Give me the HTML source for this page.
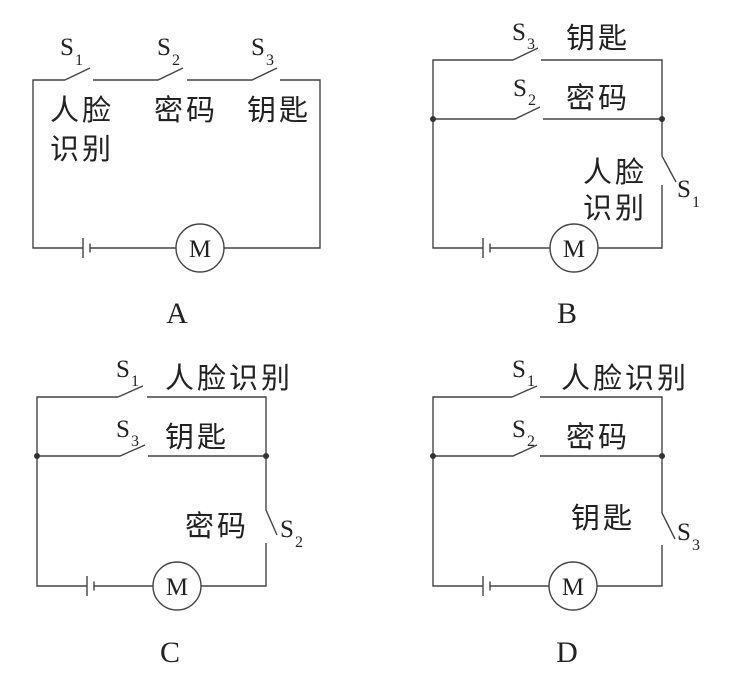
<!DOCTYPE html>
<html><head><meta charset="utf-8"><style>
html,body{margin:0;padding:0;background:#fff;}
svg{display:block;}
.w{stroke:#444;stroke-width:1.4;fill:none;}
.cj{font-family:"Liberation Sans","Noto Sans CJK SC",sans-serif;font-size:29px;fill:#222;letter-spacing:3px;}
.s{font-family:"Liberation Serif",serif;font-size:25px;fill:#222;}
.sub{font-family:"Liberation Serif",serif;font-size:16px;fill:#222;}
.m{font-family:"Liberation Serif",serif;font-size:25px;fill:#222;}
.L{font-family:"Liberation Serif",serif;font-size:30px;fill:#222;}
</style></head><body>
<svg width="744" height="683" viewBox="0 0 744 683">
<!-- A -->
<g class="w">
<path d="M65,80 H33 V248 H83 M90,248 H176 M224,248 H320 V80 H280"/>
<path d="M65,80 L90,68 M93,80 H158 L183,68 M187,80 H252 L277,68"/>
<path d="M83,238 V258 M90,243.5 V252.5"/>
<circle cx="200" cy="248" r="24"/>
</g>
<text class="m" x="200" y="257" text-anchor="middle">M</text>
<text class="s" x="60" y="55">S</text><text class="sub" x="75" y="65">1</text>
<text class="s" x="157" y="55">S</text><text class="sub" x="172" y="65">2</text>
<text class="s" x="251" y="55">S</text><text class="sub" x="266" y="65">3</text>
<text class="cj" x="50" y="120">人脸</text>
<text class="cj" x="50" y="159">识别</text>
<text class="cj" x="154" y="120">密码</text>
<text class="cj" x="247" y="120">钥匙</text>
<text class="L" x="177" y="323" text-anchor="middle">A</text>

<!-- B -->
<g class="w">
<path d="M513,60 H433 V248 H483 M490,248 H550 M598,248 H662 V185"/>
<path d="M513,60 L538,48 M541,60 H662 V156 L676,182"/>
<path d="M433,119 H515 L540,107 M543,119 H662"/>
<path d="M483,238 V258 M490,243.5 V252.5"/>
<circle cx="574" cy="248" r="24"/>
</g>
<circle cx="433" cy="119" r="3" fill="#333"/><circle cx="662" cy="119" r="3" fill="#333"/>
<text class="m" x="574" y="257" text-anchor="middle">M</text>
<text class="s" x="512" y="40">S</text><text class="sub" x="527" y="49">3</text>
<text class="s" x="513" y="96">S</text><text class="sub" x="528" y="105">2</text>
<text class="s" x="677" y="197">S</text><text class="sub" x="692" y="207">1</text>
<text class="cj" x="566" y="48">钥匙</text>
<text class="cj" x="566" y="108">密码</text>
<text class="cj" x="583" y="182">人脸</text>
<text class="cj" x="583" y="218">识别</text>
<text class="L" x="567" y="323" text-anchor="middle">B</text>

<!-- C -->
<g class="w">
<path d="M118,397 H37 V586 H87 M94,586 H153 M201,586 H266 V543"/>
<path d="M118,397 L143,386 M147,397 H266 V510 L277,535"/>
<path d="M37,456 H120 L145,445 M148,456 H266"/>
<path d="M87,576 V596 M94,581.5 V590.5"/>
<circle cx="177" cy="586" r="24"/>
</g>
<circle cx="37" cy="456" r="3" fill="#333"/><circle cx="266" cy="456" r="3" fill="#333"/>
<text class="m" x="177" y="595" text-anchor="middle">M</text>
<text class="s" x="116" y="377">S</text><text class="sub" x="131" y="386">1</text>
<text class="s" x="116" y="437">S</text><text class="sub" x="131" y="446">3</text>
<text class="s" x="280" y="537">S</text><text class="sub" x="295" y="547">2</text>
<text class="cj" x="165" y="388">人脸识别</text>
<text class="cj" x="165" y="447">钥匙</text>
<text class="cj" x="185" y="536">密码</text>
<text class="L" x="170" y="662" text-anchor="middle">C</text>

<!-- D -->
<g class="w">
<path d="M512,397 H433 V586 H483 M490,586 H549 M597,586 H662 V545"/>
<path d="M512,397 L537,386 M540,397 H662 V513 L675,539"/>
<path d="M433,456 H513 L537,445 M540,456 H662"/>
<path d="M483,576 V596 M490,581.5 V590.5"/>
<circle cx="573" cy="586" r="24"/>
</g>
<circle cx="433" cy="456" r="3" fill="#333"/><circle cx="662" cy="456" r="3" fill="#333"/>
<text class="m" x="573" y="595" text-anchor="middle">M</text>
<text class="s" x="512" y="377">S</text><text class="sub" x="527" y="386">1</text>
<text class="s" x="512" y="437">S</text><text class="sub" x="527" y="446">2</text>
<text class="s" x="677" y="540">S</text><text class="sub" x="692" y="550">3</text>
<text class="cj" x="561" y="388">人脸识别</text>
<text class="cj" x="566" y="447">密码</text>
<text class="cj" x="571" y="528">钥匙</text>
<text class="L" x="567" y="662" text-anchor="middle">D</text>
</svg>
</body></html>
